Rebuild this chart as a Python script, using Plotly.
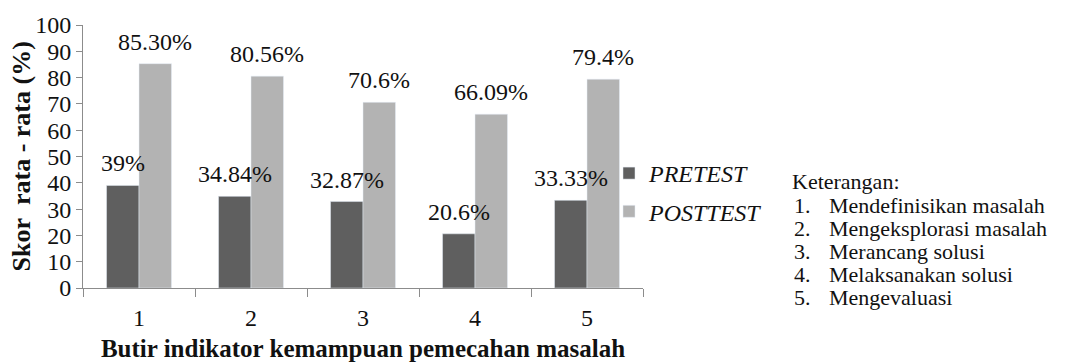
import plotly.graph_objects as go

categories = ["1", "2", "3", "4", "5"]
pretest = [39, 34.84, 32.87, 20.6, 33.33]
posttest = [85.30, 80.56, 70.6, 66.09, 79.4]
pretest_labels = ["39%", "34.84%", "32.87%", "20.6%", "33.33%"]
posttest_labels = ["85.30%", "80.56%", "70.6%", "66.09%", "79.4%"]
y_ticks = [0, 10, 20, 30, 40, 50, 60, 70, 80, 90, 100]
notes_title = "Keterangan:"
notes_numbers = ["1.", "2.", "3.", "4.", "5."]
notes_items = [
    "Mendefinisikan masalah",
    "Mengeksplorasi masalah",
    "Merancang solusi",
    "Melaksanakan solusi",
    "Mengevaluasi",
]

FONT = "Liberation Serif"
INK = "#111111"
W, H = 1086, 363
ML, MR, MT, MB = 83, 443, 25, 75
PW = W - ML - MR
PH = H - MT - MB
BARGAP = 0.42
# half of one bar's width in pixels, used to centre value labels on each bar
HALF_BAR = PW / len(categories) * (1 - BARGAP) / 4


def px_x(px):
    return (px - ML) / PW


def px_y(py):
    return (H - MB - py) / PH


fig = go.Figure()
fig.add_trace(go.Bar(
    x=categories, y=pretest, name="PRETEST",
    marker=dict(color="#5f5f5f"), legendgroup="a",
))
fig.add_trace(go.Bar(
    x=categories, y=posttest, name="POSTTEST",
    marker=dict(color="#b3b3b3"), legendgroup="b",
))

annotations = []
# value labels, drawn above every bar so they sit on top of neighbouring bars
for values, labels, shift in ((pretest, pretest_labels, -HALF_BAR),
                              (posttest, posttest_labels, HALF_BAR)):
    for idx, (val, lab) in enumerate(zip(values, labels)):
        annotations.append(dict(
            text=lab, x=idx, y=val, xref="x", yref="y",
            xanchor="center", yanchor="bottom", xshift=shift, yshift=7,
            showarrow=False, font=dict(family=FONT, size=24, color=INK),
        ))

# vertical axis title
annotations.append(dict(
    text="<b>Skor\u00a0\u00a0rata - rata (%)</b>", textangle=-90,
    x=px_x(21), y=0.5, xref="paper", yref="paper",
    xanchor="center", yanchor="middle", showarrow=False,
    font=dict(family=FONT, size=26, color=INK),
))

# explanatory list for the indicator numbers
NOTE_SIZE = 22
annotations.append(dict(
    text=notes_title, x=px_x(790), y=px_y(181), xref="paper", yref="paper",
    xanchor="left", yanchor="middle", showarrow=False,
    font=dict(family=FONT, size=NOTE_SIZE, color=INK),
))
for i, (num, item) in enumerate(zip(notes_numbers, notes_items)):
    yy = px_y(205 + i * 23)
    annotations.append(dict(
        text=num, x=px_x(792), y=yy, xref="paper", yref="paper",
        xanchor="left", yanchor="middle", showarrow=False,
        font=dict(family=FONT, size=NOTE_SIZE, color=INK),
    ))
    annotations.append(dict(
        text=item, x=px_x(827), y=yy, xref="paper", yref="paper",
        xanchor="left", yanchor="middle", showarrow=False,
        font=dict(family=FONT, size=NOTE_SIZE, color=INK),
    ))

fig.update_layout(
    width=W, height=H,
    margin=dict(l=ML, r=MR, t=MT, b=MB, pad=0, autoexpand=False),
    paper_bgcolor="white", plot_bgcolor="white",
    barmode="group", bargap=BARGAP, bargroupgap=0,
    font=dict(family=FONT, color=INK),
    showlegend=True,
    legend=dict(
        x=px_x(609), y=px_y(151), xanchor="left", yanchor="top",
        font=dict(family=FONT, size=24, color=INK, style="italic"),
        tracegroupgap=4, bgcolor="rgba(0,0,0,0)",
    ),
    xaxis=dict(
        type="category", automargin=False,
        showline=True, linecolor="#8c8c8c", linewidth=1,
        ticks="outside", tickson="boundaries", ticklen=8, tickcolor="#8c8c8c",
        ticklabelstandoff=8,
        tickfont=dict(family=FONT, size=24, color=INK),
        showgrid=False,
        title=dict(text="<b>Butir indikator kemampuan pemecahan masalah</b>",
                   font=dict(family=FONT, size=25, color=INK), standoff=9),
    ),
    yaxis=dict(
        range=[0, 100], tickvals=y_ticks, automargin=False,
        showline=True, linecolor="#8c8c8c", linewidth=1,
        ticks="outside", ticklen=6, tickcolor="#8c8c8c",
        ticksuffix="\u00a0",
        tickfont=dict(family=FONT, size=24, color=INK),
        showgrid=False, zeroline=False,
    ),
    annotations=annotations,
)

fig.write_html("out.html")
